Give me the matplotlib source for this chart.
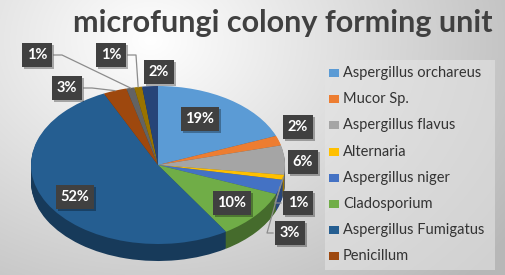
import numpy as np
import matplotlib
matplotlib.use('Agg')
import matplotlib.pyplot as plt
import matplotlib.patheffects as pe
from matplotlib.colors import to_rgb

# data
species = ['Aspergillus orchareus', 'Mucor Sp.', 'Aspergillus flavus', 'Alternaria',
           'Aspergillus niger', 'Cladosporium', 'Aspergillus Fumigatus', 'Penicillum',
           'Other 1', 'Other 2', 'Other 3']
share = [19, 2, 6, 1, 3, 10, 52, 3, 1, 1, 2]
pct_labels = ['19%', '2%', '6%', '1%', '3%', '10%', '52%', '3%', '1%', '1%', '2%']
n_legend = 8  # legend in the picture only shows the first 8

colors = ['#5B9BD5', '#ED7D31', '#A5A5A5', '#FFC000', '#4472C4', '#70AD47',
          '#255E91', '#9E480E', '#636363', '#997300', '#264478']

W, H = 505, 275
fig = plt.figure(figsize=(W / 100, H / 100), dpi=100)

# background gradient
bg = fig.add_axes([0, 0, 1, 1], zorder=0)
yy, xx = np.mgrid[0:H, 0:W]
d = np.sqrt(((xx - 150) / 420.0) ** 2 + ((yy - 40) / 330.0) ** 2)
g = np.clip(1.0 - 0.27 * d, 0.72, 1.0)
bg.imshow(np.dstack([g, g, g]), extent=[0, W, H, 0], aspect='auto')
bg.set_xlim(0, W)
bg.set_ylim(H, 0)
bg.axis('off')

# pie axes -> elliptical 3D-ish pie
cx, cy, rx, ry, depth = 158, 165, 127, 79, 17
top, bot = cy - ry, cy + ry + depth
ax = fig.add_axes([(cx - rx) / W, (H - bot) / H, 2 * rx / W, (bot - top) / H], zorder=1)
dd = depth / ry

def darker(c, f):
    r, g_, b = to_rgb(c)
    return (r * f, g_ * f, b * f)

side_cols = [darker(c, 0.62) for c in colors]
for s in np.linspace(dd, 0.0, 18)[:-1]:
    ax.pie(share, colors=side_cols, startangle=90, counterclock=False,
           center=(0, -s), radius=1, wedgeprops=dict(linewidth=0))
wedges, _ = ax.pie(share, colors=colors, startangle=90, counterclock=False,
                   center=(0, 0), radius=1, wedgeprops=dict(linewidth=0))
ax.set_aspect('auto')
ax.set_xlim(-1, 1)
ax.set_ylim(-1 - dd, 1)
ax.axis('off')

# overlay for labels (pixel coords from top-left)
ov = fig.add_axes([0, 0, 1, 1], zorder=3)
ov.set_xlim(0, W)
ov.set_ylim(H, 0)
ov.axis('off')
ov.patch.set_alpha(0)

fig.canvas.draw()

def edge_px(i, r=1.0):
    w = wedges[i]
    a = np.deg2rad((w.theta1 + w.theta2) / 2)
    p = ax.transData.transform((r * np.cos(a), r * np.sin(a)))
    return ov.transData.inverted().transform(p)

# label box centres (pixels)
label_pos = [(200, 119), (298, 127), (303, 162), (298, 203), (290, 233),
             (232, 203), (75, 197), (67, 88), (37, 55), (111, 55), (159, 72)]
leaders = {3: 'left', 4: 'left', 7: 'right', 8: 'right', 9: 'right'}

for i, (lx, ly) in enumerate(label_pos):
    if i in leaders:
        ex, ey = edge_px(i)
        if leaders[i] == 'right':
            sx = lx + 17
            ov.plot([sx, sx + 8, ex], [ly, ly, ey], color='#8c8c8c', lw=0.9, zorder=4)
        else:
            sx = lx - 17
            ov.plot([sx, sx - 6, ex], [ly, ly, ey], color='#8c8c8c', lw=0.9, zorder=4)
    t = ov.text(lx, ly, pct_labels[i], ha='center', va='center', fontsize=10.5,
                fontweight='bold', family='Lato', color='white', zorder=5,
                bbox=dict(boxstyle='square,pad=0.32', fc='#404040', ec='none'))
    t.get_bbox_patch().set_path_effects(
        [pe.SimplePatchShadow(offset=(1.5, -1.5), shadow_rgbFace='black', alpha=0.3), pe.Normal()])

# legend box
ov.add_patch(plt.Rectangle((325, 60), 170, 210, fc='#e4e4e4', ec='none', alpha=0.6, zorder=3))
for i in range(n_legend):
    y = 73 + i * 26.2
    ov.add_patch(plt.Rectangle((329, y - 4), 10, 8, fc=colors[i], ec='none', zorder=4))
    ov.text(343, y, species[i], ha='left', va='center', fontsize=10.5, family='Lato',
            color='#333333', zorder=4)

# title
ov.text(283, 23, 'microfungi colony forming unit', ha='center', va='center',
        fontsize=22, fontweight='bold', family='Lato', color='#404040', zorder=4)

fig.savefig('out.png', dpi=100)
